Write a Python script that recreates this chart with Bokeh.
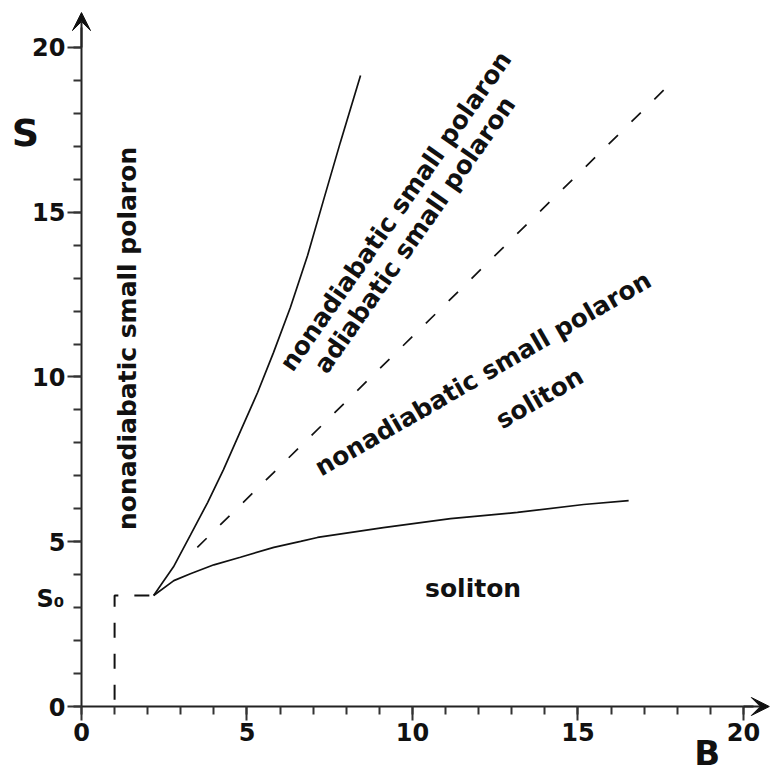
from bokeh.plotting import figure
from bokeh.models import FixedTicker, Arrow, VeeHead, Label, Range1d, ColumnDataSource
from bokeh.core.properties import value
from bokeh.embed import file_html
from bokeh.resources import INLINE

# ---- data ----
x_ticks = [0, 5, 10, 15, 20]
y_ticks = [0, 5, 10, 15, 20]
minor_ticks = list(range(0, 21))

# upper solid boundary: nonadiabatic / adiabatic small polaron
upper_B = [2.18, 2.45, 2.78, 3.29, 3.81, 4.29, 4.80, 5.32, 5.80, 6.31, 6.83, 7.31, 7.82, 8.43]
upper_S = [3.37, 3.76, 4.24, 5.20, 6.19, 7.19, 8.35, 9.53, 10.74, 12.11, 13.69, 15.36, 17.12, 19.15]

# lower solid boundary: soliton
lower_B = [2.18, 2.79, 3.29, 4.00, 4.80, 5.81, 6.62, 7.13, 9.12, 11.15, 13.17, 15.17, 16.53]
lower_S = [3.37, 3.82, 4.03, 4.30, 4.53, 4.83, 5.01, 5.13, 5.43, 5.70, 5.89, 6.13, 6.25]

# dashed straight boundary
dash_B = [3.50, 17.95]
dash_S = [4.83, 19.06]

# S0 dashed guide
s0_B = [2.05, 1.0, 1.0]
s0_S = [3.37, 3.37, 0.0]

# region labels
region_text = ["nonadiabatic small polaron", "nonadiabatic small polaron",
               "adiabatic small polaron", "nonadiabatic small polaron",
               "soliton", "soliton"]
region_B = [1.38, 9.49, 10.07, 12.13, 13.84, 11.83]
region_S = [11.17, 15.03, 14.32, 10.10, 9.36, 3.57]
region_angle = [90, 55, 55, 30, 30, 0]

FONT = "DejaVu Sans"
INK = "#111111"

p = figure(width=771, height=778,
           x_range=Range1d(-2.447, 20.846), y_range=Range1d(-2.185, 21.426),
           output_backend="svg", toolbar_location=None,
           min_border_left=0, min_border_bottom=0,
           min_border_top=0, min_border_right=0)
p.outline_line_color = None
p.grid.visible = False
p.background_fill_color = "white"
p.border_fill_color = "white"

for ax, ticks in ((p.xaxis[0], x_ticks), (p.yaxis[0], y_ticks)):
    ax.fixed_location = 0
    ax.ticker = FixedTicker(ticks=ticks, minor_ticks=minor_ticks)
    ax.axis_line_width = 2
    ax.axis_line_color = "#222222"
    ax.major_tick_line_color = "#333333"
    ax.minor_tick_line_color = "#333333"
    ax.major_tick_line_width = 2
    ax.minor_tick_line_width = 2
    ax.major_tick_in = 0
    ax.major_tick_out = 14
    ax.minor_tick_in = 0
    ax.minor_tick_out = 8
    ax.major_label_text_font = FONT
    ax.major_label_text_font_style = "bold"
    ax.major_label_text_font_size = "24px"
    ax.major_label_text_color = INK

p.xaxis[0].major_label_standoff = 2
p.yaxis[0].major_label_standoff = 2
p.xaxis[0].bounds = (0, 20.3)
p.yaxis[0].bounds = (0, 20.6)

# axis arrows
p.add_layout(Arrow(end=VeeHead(size=18, fill_color=INK, line_color=INK),
                   x_start=0, y_start=20.0, x_end=0, y_end=21.06,
                   line_width=2, line_color="#222222"))
p.add_layout(Arrow(end=VeeHead(size=18, fill_color=INK, line_color=INK),
                   x_start=20.0, y_start=0, x_end=20.78, y_end=0,
                   line_width=2, line_color="#222222"))

# boundaries
p.line(upper_B, upper_S, line_color=INK, line_width=1.7)
p.line(lower_B, lower_S, line_color=INK, line_width=1.7)
p.line(dash_B, dash_S, line_color=INK, line_width=1.7, line_dash="13 19")
p.line(s0_B, s0_S, line_color=INK, line_width=2, line_dash="15 16")

# region labels
src = ColumnDataSource(dict(x=region_B, y=region_S, text=region_text, angle=region_angle))
p.text(x="x", y="y", text="text", angle="angle", angle_units="deg", source=src,
       text_font=value(FONT), text_font_style="bold", text_font_size="25px",
       text_align="center", text_baseline="middle", text_color=INK)

# axis names and S0
p.add_layout(Label(x=-1.69, y=17.42, text="S", text_font=FONT, text_font_style="bold",
                   text_font_size="38px", text_align="center", text_baseline="middle",
                   text_color=INK))
p.add_layout(Label(x=18.9, y=-1.42, text="B", text_font=FONT, text_font_style="bold",
                   text_font_size="34px", text_align="center", text_baseline="middle",
                   text_color=INK))
p.add_layout(Label(x=-1.36, y=3.25, text="S₀", text_font=FONT, text_font_style="bold",
                   text_font_size="24px", text_align="left", text_baseline="middle",
                   text_color=INK))

open("out.html", "w").write(file_html(p, INLINE))
